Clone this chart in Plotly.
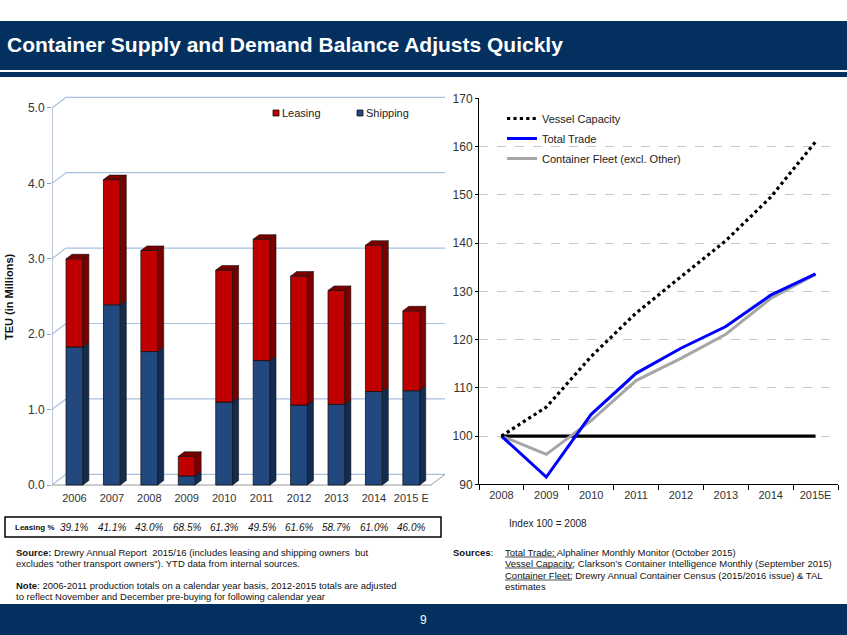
import plotly.graph_objects as go

# ---------------- data ----------------
years_left = ["2006", "2007", "2008", "2009", "2010", "2011", "2012", "2013", "2014", "2015 E"]
shipping = [1.83, 2.39, 1.77, 0.12, 1.10, 1.65, 1.06, 1.07, 1.24, 1.25]
leasing = [1.17, 1.66, 1.34, 0.26, 1.75, 1.61, 1.71, 1.51, 1.94, 1.06]
leasing_pct = ["39.1%", "41.1%", "43.0%", "68.5%", "61.3%", "49.5%", "61.6%", "58.7%", "61.0%", "46.0%"]
left_ticks = [0, 1, 2, 3, 4, 5]

years_right = ["2008", "2009", "2010", "2011", "2012", "2013", "2014", "2015E"]
vessel_capacity = [100, 106, 116.5, 125.5, 133, 140.5, 149.5, 161]
total_trade = [100, 91.5, 104.5, 113, 118.2, 122.7, 129.2, 133.6]
container_fleet = [100, 96.2, 103.2, 111.5, 116.1, 121.1, 128.5, 133.5]
baseline = [100, 100, 100, 100, 100, 100, 100, 100]

W, H = 847, 635
RED, RED_D = "#c00000", "#7a0000"
BLUE, BLUE_D = "#22497f", "#142c50"
NAVY = "#03305f"


def px_x(p):
    return p / W


def px_y(p):
    return 1 - p / H


fig = go.Figure()

# ---------------- left chart (3D-like stacked bars) ----------------
XMIN, XMAX = -0.6, 9.9
YMIN, YMAX = -0.066, 5.212
bw = 0.45
ddx, ddy = 0.16, 0.06        # bar depth offsets (data units)
wdx, wdy = 0.374, 0.142      # wall depth offsets (data units)
xs = list(range(len(years_left)))
tops = [s + l for s, l in zip(shipping, leasing)]

fig.add_trace(go.Bar(x=xs, y=shipping, base=[0] * len(xs), width=bw, name="Shipping",
                     marker=dict(color=BLUE, line=dict(color="#111111", width=0.8)),
                     xaxis="x", yaxis="y", showlegend=False))
fig.add_trace(go.Bar(x=xs, y=leasing, base=shipping, width=bw, name="Leasing",
                     marker=dict(color=RED, line=dict(color="#111111", width=0.8)),
                     xaxis="x", yaxis="y", showlegend=False))


def side_poly(c, b0, b1):
    xr = c + bw / 2
    return [xr, xr + ddx, xr + ddx, xr, xr, None], [b0, b0 + ddy, b1 + ddy, b1, b0, None]


bx, by, rx, ry, tx, ty = [], [], [], [], [], []
for c, s, t in zip(xs, shipping, tops):
    a, b = side_poly(c, 0, s)
    bx += a; by += b
    a, b = side_poly(c, s, t)
    rx += a; ry += b
    xl, xr = c - bw / 2, c + bw / 2
    tx += [xl, xl + ddx, xr + ddx, xr, xl, None]
    ty += [t, t + ddy, t + ddy, t, t, None]

for X, Y, col in [(bx, by, BLUE_D), (rx, ry, RED_D), (tx, ty, RED_D)]:
    fig.add_trace(go.Scatter(x=X, y=Y, fill="toself", fillcolor=col, mode="lines",
                             line=dict(color="#111111", width=0.6), hoverinfo="skip",
                             xaxis="x", yaxis="y", showlegend=False))

shapes = []
GRID = "#a9c1e0"
for v in left_ticks:
    shapes.append(dict(type="line", xref="x", yref="y", x0=XMIN + wdx, x1=XMAX, y0=v + wdy, y1=v + wdy,
                       line=dict(color=GRID, width=1.2), layer="below"))
    shapes.append(dict(type="line", xref="x", yref="y", x0=XMIN, x1=XMIN + wdx, y0=v, y1=v + wdy,
                       line=dict(color=GRID, width=1.2), layer="below"))
# floor front edge and right diagonal
shapes.append(dict(type="line", xref="x", yref="y", x0=XMIN, x1=XMAX - wdx, y0=0, y1=0,
                   line=dict(color="#999999", width=1), layer="below"))
shapes.append(dict(type="line", xref="x", yref="y", x0=XMAX - wdx, x1=XMAX, y0=0, y1=wdy,
                   line=dict(color="#999999", width=1), layer="below"))
# left axis line
shapes.append(dict(type="line", xref="x", yref="y", x0=XMIN, x1=XMIN, y0=0, y1=5,
                   line=dict(color="#8ea2bd", width=1.2), layer="below"))

# ---------------- right chart (lines) ----------------
fig.add_trace(go.Scatter(x=years_right, y=baseline, mode="lines", line=dict(color="black", width=3.2),
                         xaxis="x2", yaxis="y2", showlegend=False, hoverinfo="skip"))
fig.add_trace(go.Scatter(x=years_right, y=container_fleet, mode="lines", name="Container Fleet (excl. Other)",
                         line=dict(color="#a6a6a6", width=3), xaxis="x2", yaxis="y2",
                         legend="legend2", legendrank=3, legendgroup="c"))
fig.add_trace(go.Scatter(x=years_right, y=total_trade, mode="lines", name="Total Trade",
                         line=dict(color="#0000ff", width=3), xaxis="x2", yaxis="y2",
                         legend="legend2", legendrank=2, legendgroup="b"))
fig.add_trace(go.Scatter(x=years_right, y=vessel_capacity, mode="lines", name="Vessel Capacity",
                         line=dict(color="black", width=3.2, dash="dot"), xaxis="x2", yaxis="y2",
                         legend="legend2", legendrank=1, legendgroup="a"))

# ---------------- decorations ----------------
# header band
shapes.append(dict(type="rect", xref="paper", yref="paper", x0=0, x1=1, y0=px_y(70), y1=px_y(21),
                   fillcolor=NAVY, line=dict(width=0), layer="below"))
shapes.append(dict(type="rect", xref="paper", yref="paper", x0=0, x1=1, y0=px_y(77), y1=px_y(72),
                   fillcolor=NAVY, line=dict(width=0), layer="below"))
# footer band
shapes.append(dict(type="rect", xref="paper", yref="paper", x0=0, x1=1, y0=0, y1=px_y(604),
                   fillcolor=NAVY, line=dict(width=0), layer="below"))
# leasing % box
shapes.append(dict(type="rect", xref="paper", yref="paper", x0=px_x(5), x1=px_x(441),
                   y0=px_y(537), y1=px_y(517), line=dict(color="black", width=1.5)))
# left legend squares
for x0, col in [(273, RED), (357, BLUE)]:
    shapes.append(dict(type="rect", xref="paper", yref="paper", x0=px_x(x0), x1=px_x(x0 + 6),
                       y0=px_y(116), y1=px_y(110), fillcolor=col, line=dict(color="#111111", width=0.8)))
# underline for sources labels
for y, x0, x1 in [(557, 505, 556), (568, 505, 574), (580, 505, 572)]:
    shapes.append(dict(type="line", xref="paper", yref="paper", x0=px_x(x0), x1=px_x(x1),
                       y0=px_y(y), y1=px_y(y), line=dict(color="#222222", width=0.8)))

FONT = "Liberation Sans, Arial, sans-serif"
ann = []


def text(x, y, s, size=9.5, color="#111111", xanchor="left", **kw):
    ann.append(dict(xref="paper", yref="paper", x=px_x(x), y=px_y(y), text=s, showarrow=False,
                    xanchor=xanchor, yanchor="middle", font=dict(family=FONT, size=size, color=color), **kw))


text(5, 44, "<b>Container Supply and Demand Balance Adjusts Quickly</b>", size=21, color="white")
text(423, 620, "9", size=12, color="white", xanchor="center")
text(280, 113, "Leasing", size=11, color="#222222")
text(364, 113, "Shipping", size=11, color="#222222")
text(9, 297, "<b>TEU (in Millions)</b>", size=11, color="#111111", xanchor="center", textangle=-90)
text(13, 527, "<b>Leasing %</b>", size=8, color="#111111")
for i, p in enumerate(leasing_pct):
    ann.append(dict(xref="x", yref="paper", x=xs[i], y=px_y(527), text="<i>" + p + "</i>", showarrow=False,
                    xanchor="center", yanchor="middle", font=dict(family=FONT, size=10, color="#111111")))
text(548, 523, "Index 100 = 2008", size=10, color="#222222", xanchor="center")

text(14, 552, "<b>Source:</b> Drewry Annual Report  2015/16 (includes leasing and shipping owners  but", size=9.5)
text(14, 563, "excludes “other transport owners”). YTD data from internal sources.", size=9.5)
text(14, 585, "<b>Note</b>: 2006-2011 production totals on a calendar year basis, 2012-2015 totals are adjusted", size=9.5)
text(14, 596, "to reflect November and December pre-buying for following calendar year", size=9.5)

text(451, 552, "<b>Sources</b>:", size=9.5)
text(503, 552, "Total Trade: Alphaliner Monthly Monitor (October 2015)", size=9.5)
text(503, 563, "Vessel Capacity: Clarkson’s Container Intelligence Monthly (September 2015)", size=9.5)
text(503, 575, "Container Fleet: Drewry Annual Container Census (2015/2016 issue) & TAL", size=9.5)
text(503, 586, "estimates", size=9.5)

fig.update_layout(
    width=W, height=H, margin=dict(l=0, r=0, t=0, b=0, autoexpand=False),
    paper_bgcolor="white", plot_bgcolor="rgba(0,0,0,0)",
    font=dict(family=FONT, color="#333333"),
    barmode="overlay",
    shapes=shapes, annotations=ann,
    xaxis=dict(domain=[px_x(52), px_x(445)], range=[XMIN, XMAX], tickvals=xs, ticktext=years_left,
               automargin=False,
               showgrid=False, zeroline=False, showline=False, ticks="", tickfont=dict(size=11, color="#333333")),
    yaxis=dict(domain=[px_y(490), px_y(92)], range=[YMIN, YMAX], tickvals=left_ticks, automargin=False,
               ticktext=["0.0", "1.0", "2.0", "3.0", "4.0", "5.0"], showgrid=False, zeroline=False,
               showline=False, ticks="outside", ticklen=4, tickcolor="#8ea2bd",
               tickfont=dict(size=12, color="#333333")),
    xaxis2=dict(domain=[px_x(479), px_x(838)], anchor="y2", type="category", range=[-0.5, 7.5],
                automargin=False,
                tickson="boundaries", ticks="outside", ticklen=5, tickcolor="black", showline=True,
                linecolor="black", linewidth=1, showgrid=False, tickfont=dict(size=11, color="#333333")),
    yaxis2=dict(domain=[px_y(484.3), px_y(98.3)], anchor="x2", range=[90, 170], dtick=10, automargin=False,
                showline=True, linecolor="black", linewidth=1, ticks="outside", ticklen=3, tickcolor="black",
                showgrid=True, gridcolor="#c8c8c8", griddash="dash", gridwidth=1, zeroline=False,
                tickfont=dict(size=12, color="#333333")),
    legend2=dict(x=px_x(502), y=px_y(104), xanchor="left", yanchor="top", bgcolor="rgba(0,0,0,0)",
                 font=dict(size=11, color="#222222"), tracegroupgap=1, traceorder="grouped"),
)

fig.write_html("out.html", config={"displayModeBar": False},
               post_script="document.body.style.margin='0';")
